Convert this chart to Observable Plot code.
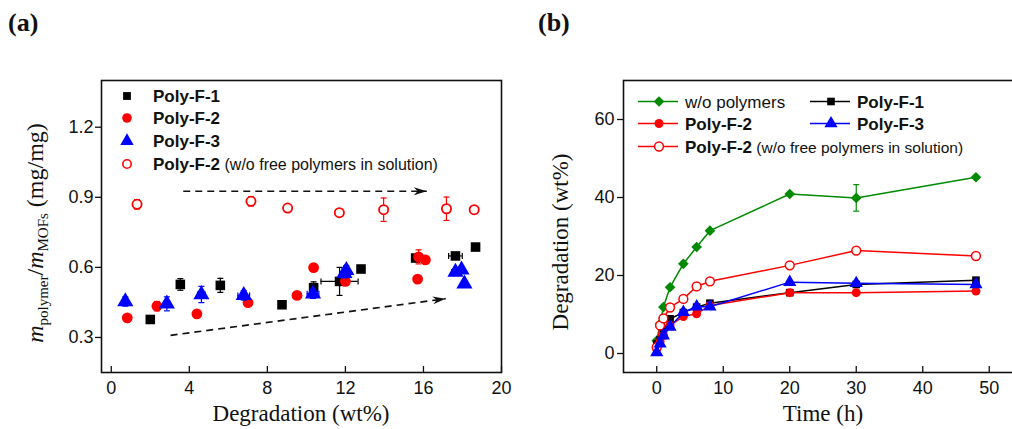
<!DOCTYPE html>
<html><head><meta charset="utf-8">
<script src="https://cdn.jsdelivr.net/npm/d3@7"></script>
<script src="https://cdn.jsdelivr.net/npm/@observablehq/plot@0.6"></script>
<style>
body{margin:0;background:#fff;}
#wrap{position:relative;width:1012px;height:429px;overflow:hidden;background:#fff;}
#pa{position:absolute;left:0;top:0;width:506px;height:429px;}
#pb{position:absolute;left:506px;top:0;width:520px;height:429px;}
</style></head><body><div id="wrap"><div id="pa"></div><div id="pb"></div></div>
<script>
// ---------- Panel (a) data ----------
const xTicksA = [0, 4, 8, 12, 16, 20];
const yTicksA = [0.3, 0.6, 0.9, 1.2];

const f1X    = [2.0, 3.54, 5.59, 8.75, 10.37, 11.7, 12.8, 15.6, 17.64, 18.67];
const f1Y    = [0.377, 0.527, 0.523, 0.44, 0.513, 0.54, 0.593, 0.64, 0.649, 0.687];
const f1YErr = [0.01, 0.025, 0.03, 0.015, 0.025, 0.06, 0.008, 0.01, 0.01, 0.01];
const f1XErr = [0.1, 0.1, 0.1, 0.1, 0.2, 0.95, 0.1, 0.15, 0.35, 0.2];

const f2X    = [0.82, 2.34, 4.39, 7.01, 9.52, 10.37, 12.0, 15.7, 15.75, 16.1];
const f2Y    = [0.384, 0.434, 0.401, 0.449, 0.48, 0.599, 0.54, 0.55, 0.645, 0.632];
const f2YErr = [0.005, 0.02, 0.01, 0.01, 0.005, 0.005, 0.01, 0.015, 0.03, 0.01];
const f2XErr = [0.05, 0.1, 0.05, 0.05, 0.05, 0.05, 0.1, 0.15, 0.15, 0.1];

const f3X    = [0.72, 2.85, 4.62, 6.79, 10.34, 11.95, 12.05, 17.64, 17.95, 18.1];
const f3Y    = [0.454, 0.444, 0.484, 0.48, 0.487, 0.575, 0.587, 0.58, 0.59, 0.53];
const f3YErr = [0.02, 0.03, 0.035, 0.02, 0.02, 0.02, 0.02, 0.015, 0.01, 0.01];
const f3XErr = [0.1, 0.15, 0.2, 0.3, 0.3, 0.15, 0.15, 0.2, 0.1, 0.1];

const o2X    = [1.32, 7.16, 9.04, 11.69, 13.96, 17.18, 18.6];
const o2Y    = [0.87, 0.883, 0.854, 0.834, 0.847, 0.851, 0.847];
const o2YErr = [0.02, 0.02, 0.015, 0.015, 0.05, 0.05, 0.005];

const arrowX1 = [3.69, 3.04];
const arrowY1 = [0.926, 0.309];
const arrowX2 = [16.17, 17.14];
const arrowY2 = [0.926, 0.466];

const legendA = ["Poly-F-1", "Poly-F-2", "Poly-F-3", "Poly-F-2"];
const legendANote = " (w/o free polymers in solution)";

// ---------- Panel (b) data ----------
const xTicksB = [0, 10, 20, 30, 40, 50];
const yTicksB = [0, 20, 40, 60];
const timeB   = [0, 0.5, 1, 2, 4, 6, 8, 20, 30, 48];
const gVals   = [3.3, 7.6, 11.9, 17, 23, 27.3, 31.5, 40.9, 39.9, 45.2];
const gErr    = [0, 0, 0, 0, 0, 0, 0, 0.4, 3.4, 0.3];
const b1Vals  = [2.5, 3.5, 6, 8.9, 10.5, 11.9, 12.9, 15.6, 17.7, 18.8];
const r2Vals  = [1.2, 3, 4.6, 7.2, 9.5, 10.2, 12.3, 15.6, 15.6, 16];
const b3Vals  = [0.3, 2.5, 4.6, 6.8, 10.6, 12, 12, 18.3, 18, 17.7];
const o2Vals  = [1.6, 7.2, 9, 11.8, 14, 17.2, 18.5, 22.6, 26.4, 25];
const o2Err   = [0.8, 0.8, 0.8, 0.8, 0.8, 0.8, 0.8, 0.4, 0.3, 0.3];
const legendB = ["w/o polymers", "Poly-F-1", "Poly-F-2", "Poly-F-3", "Poly-F-2"];

// ---------- helpers ----------
const capH = {draw(ctx, size){ const r = Math.sqrt(size/Math.PI); ctx.moveTo(-r,0); ctx.lineTo(r,0); }};
const capV = {draw(ctx, size){ const r = Math.sqrt(size/Math.PI); ctx.moveTo(0,-r); ctx.lineTo(0,r); }};
const headSym = {draw(ctx, size){ const r = Math.sqrt(size/Math.PI);
  ctx.moveTo(0,0); ctx.lineTo(-2*r,-0.6*r); ctx.lineTo(-1.4*r,0); ctx.lineTo(-2*r,0.6*r); ctx.closePath(); }};

function rows(xs, ys, ye, xe){ return xs.map((x,i)=>({x, y: ys[i], ye: ye ? ye[i] : 0, xe: xe ? xe[i] : 0})); }
function errMarks(data, color, cap){
  const yd = data.filter(d => d.ye > 0), xd = data.filter(d => d.xe > 0);
  const o = {stroke: color, strokeWidth: 1.2};
  return [
    Plot.ruleX(yd, {x: "x", y1: d => d.y - d.ye, y2: d => d.y + d.ye, ...o}),
    Plot.dot(yd, {x: "x", y: d => d.y - d.ye, symbol: capH, r: cap, fill: "none", ...o}),
    Plot.dot(yd, {x: "x", y: d => d.y + d.ye, symbol: capH, r: cap, fill: "none", ...o}),
    Plot.ruleY(xd, {y: "y", x1: d => d.x - d.xe, x2: d => d.x + d.xe, ...o}),
    Plot.dot(xd, {x: d => d.x - d.xe, y: "y", symbol: capV, r: cap, fill: "none", ...o}),
    Plot.dot(xd, {x: d => d.x + d.xe, y: "y", symbol: capV, r: cap, fill: "none", ...o})
  ];
}
const baseStyle = {fontFamily: "'Liberation Sans', Arial, sans-serif", fontSize: "18px", color: "#111", background: "transparent", overflow: "visible"};

// ---------- Panel (a) ----------
const A = {W: 506, H: 429, ml: 101, mr: 5, mt: 80, mb: 57};
const xDomA = [-0.5, 20], yDomA = [0.15, 1.4];
const kxA = (A.W - A.ml - A.mr) / (xDomA[1] - xDomA[0]);
const kyA = (A.H - A.mt - A.mb) / (yDomA[1] - yDomA[0]);
const arrows = arrowX1.map((x1,i)=>({x1, y1: arrowY1[i], x2: arrowX2[i], y2: arrowY2[i]}));

const sA = [
  {d: rows(f1X, f1Y, f1YErr, f1XErr), color: "#000", symbol: "square", r: 5.4, lr: 4.4, fill: "#000", stroke: "none"},
  {d: rows(f2X, f2Y, f2YErr, f2XErr), color: "#f00", symbol: "circle", r: 5.4, lr: 4.8, fill: "#f00", stroke: "none"},
  {d: rows(f3X, f3Y, f3YErr, f3XErr), color: "#00f", symbol: "triangle", r: 6, lr: 5, fill: "#00f", stroke: "none"},
  {d: rows(o2X, o2Y, o2YErr, null), color: "#f00", symbol: "circle", r: 4.6, lr: 4.2, fill: "#fff", stroke: "#f00"}
];

const plotA = Plot.plot({
  width: A.W, height: A.H, marginLeft: A.ml, marginRight: A.mr, marginTop: A.mt, marginBottom: A.mb,
  style: baseStyle,
  x: {domain: xDomA}, y: {domain: yDomA},
  marks: [
    Plot.link(arrows, {x1: "x1", y1: "y1", x2: "x2", y2: "y2", stroke: "#111", strokeWidth: 1.7, strokeDasharray: "7,5"}),
    Plot.dot(arrows, {x: "x2", y: "y2", symbol: headSym, r: 6.5, fill: "#111", stroke: "none",
      rotate: d => Math.atan2(-(d.y2 - d.y1) * kyA, (d.x2 - d.x1) * kxA) * 180 / Math.PI}),
    ...sA.flatMap(s => [
      ...errMarks(s.d, s.color, 3),
      Plot.dot(s.d, {x: "x", y: "y", symbol: s.symbol, r: s.r, fill: s.fill, stroke: s.stroke, strokeWidth: 1.8})
    ]),
    Plot.frame({stroke: "#111", strokeWidth: 1.6}),
    Plot.ruleX(xTicksA, {insetTop: A.H - A.mt - A.mb - 6, stroke: "#111", strokeWidth: 1.3}),
    Plot.axisX({ticks: xTicksA, tickSize: 0, tickPadding: 9, label: null}),
    Plot.axisY({ticks: yTicksA, tickSize: 6, tickPadding: 2, tickFormat: d3.format(".1f"), label: null, strokeWidth: 1.3})
  ]
});
document.getElementById("pa").appendChild(plotA);

// ---------- Panel (b) ----------
const B = {W: 520, H: 429, ml: 117, mr: 4, mt: 80, mb: 57};
const tbl = (vals, err) => timeB.map((t,i)=>({x: t, y: vals[i], ye: err ? err[i] : 0, xe: 0}));
const sB = [
  {d: tbl(gVals, gErr), color: "#008a00", symbol: "diamond2", r: 4.8, fill: "#008a00", stroke: "none"},
  {d: tbl(b1Vals), color: "#000", symbol: "square", r: 4.3, fill: "#000", stroke: "none"},
  {d: tbl(r2Vals), color: "#f00", symbol: "circle", r: 4.5, fill: "#f00", stroke: "none"},
  {d: tbl(o2Vals, o2Err), color: "#f00", symbol: "circle", r: 4.4, fill: "#fff", stroke: "#f00"},
  {d: tbl(b3Vals), color: "#00f", symbol: "triangle", r: 4.9, fill: "#00f", stroke: "none"}
];
const plotB = Plot.plot({
  width: B.W, height: B.H, marginLeft: B.ml, marginRight: B.mr, marginTop: B.mt, marginBottom: B.mb,
  style: baseStyle,
  x: {domain: [-5, 55]}, y: {domain: [-4.87, 70]},
  marks: [
    ...sB.flatMap(s => [
      Plot.line(s.d, {x: "x", y: "y", stroke: s.color, strokeWidth: 1.5}),
      ...errMarks(s.d, s.color, 3),
      Plot.dot(s.d, {x: "x", y: "y", symbol: s.symbol, r: s.r, fill: s.fill, stroke: s.stroke, strokeWidth: 1.5})
    ]),
    Plot.frame({stroke: "#111", strokeWidth: 1.6}),
    Plot.ruleX(xTicksB, {insetTop: B.H - B.mt - B.mb - 6, stroke: "#111", strokeWidth: 1.3}),
    Plot.axisX({ticks: xTicksB, tickSize: 0, tickPadding: 9, label: null}),
    Plot.axisY({ticks: yTicksB, tickSize: 6, tickPadding: 3, label: null, strokeWidth: 1.3})
  ]
});
document.getElementById("pb").appendChild(plotB);

// ---------- annotations (text, legends) ----------
const serif = "'Liberation Serif', 'Times New Roman', serif";
const sans = "'Liberation Sans', Arial, sans-serif";
const svgA = d3.select(plotA), svgB = d3.select(plotB);

function txt(svg, x, y, s, o = {}) {
  return svg.append("text").attr("x", x).attr("y", y).attr("font-family", o.family || sans)
    .attr("font-size", o.size || 17).attr("font-weight", o.weight || "normal").attr("fill", "#111")
    .attr("text-anchor", o.anchor || "start").text(s);
}
// panel labels
txt(svgA, 8, 31, "(a)", {family: serif, size: 26, weight: "bold"});
txt(svgB, 32, 31, "(b)", {family: serif, size: 26, weight: "bold"});
// x titles
txt(svgA, 301, 421, "Degradation (wt%)", {family: serif, size: 23, anchor: "middle"});
txt(svgB, 317, 421, "Time (h)", {family: serif, size: 23, anchor: "middle"});
// y title B
svgB.append("text").attr("transform", "translate(62,242) rotate(-90)").attr("text-anchor", "middle")
  .attr("font-family", serif).attr("font-size", 23).attr("fill", "#111").text("Degradation (wt%)");
// y title A with subscripts
{
  const t = svgA.append("text").attr("transform", "translate(43,233) rotate(-90)").attr("text-anchor", "middle")
    .attr("font-family", serif).attr("font-size", 24).attr("fill", "#111");
  t.append("tspan").attr("font-style", "italic").text("m");
  t.append("tspan").attr("font-size", 15).attr("dy", 5).text("polymer");
  t.append("tspan").attr("dy", -5).text("/");
  t.append("tspan").attr("font-style", "italic").text("m");
  t.append("tspan").attr("font-size", 15).attr("dy", 5).text("MOFs");
  t.append("tspan").attr("dy", -5).text(" (mg/mg)");
}
// legend A
{
  const ys = [96, 118, 141, 164];
  sA.forEach((s, i) => {
    const sym = {square: d3.symbolSquare, circle: d3.symbolCircle, triangle: d3.symbolTriangle}[s.symbol];
    svgA.append("path").attr("d", d3.symbol(sym, Math.PI * s.lr * s.lr)())
      .attr("transform", `translate(127,${ys[i]})`).attr("fill", s.fill).attr("stroke", s.stroke).attr("stroke-width", 1.6);
    const t = txt(svgA, 153, ys[i] + 6, "", {size: 17, weight: "bold"});
    t.append("tspan").text(legendA[i]);
    if (i === 3) t.append("tspan").attr("font-weight", "normal").attr("font-size", 16).text(legendANote);
  });
}
// legend B
{
  const pos = [[132, 101.5], [304, 101.5], [132, 123.5], [304, 123.5], [132, 146.5]];
  const order = [0, 1, 2, 4, 3]; // legend order: w/o, F-1, F-2, F-3, F-2 open
  order.forEach((si, i) => {
    const s = sB[si], [x0, y0] = pos[i];
    svgB.append("line").attr("x1", x0).attr("x2", x0 + 40).attr("y1", y0).attr("y2", y0)
      .attr("stroke", s.color).attr("stroke-width", 1.5);
    const sym = {square: d3.symbolSquare, circle: d3.symbolCircle, triangle: d3.symbolTriangle, diamond2: d3.symbolDiamond2}[s.symbol];
    svgB.append("path").attr("d", d3.symbol(sym, Math.PI * s.r * s.r)())
      .attr("transform", `translate(${x0 + 21},${y0})`).attr("fill", s.fill).attr("stroke", s.stroke).attr("stroke-width", 1.5);
    const t = txt(svgB, x0 + 47, y0 + 6, "", {size: 17, weight: i === 0 ? "normal" : "bold"});
    t.append("tspan").text(legendB[i]);
    if (i === 4) t.append("tspan").attr("font-weight", "normal").attr("font-size", 15.5).text(legendANote);
  });
}
</script></body></html>
